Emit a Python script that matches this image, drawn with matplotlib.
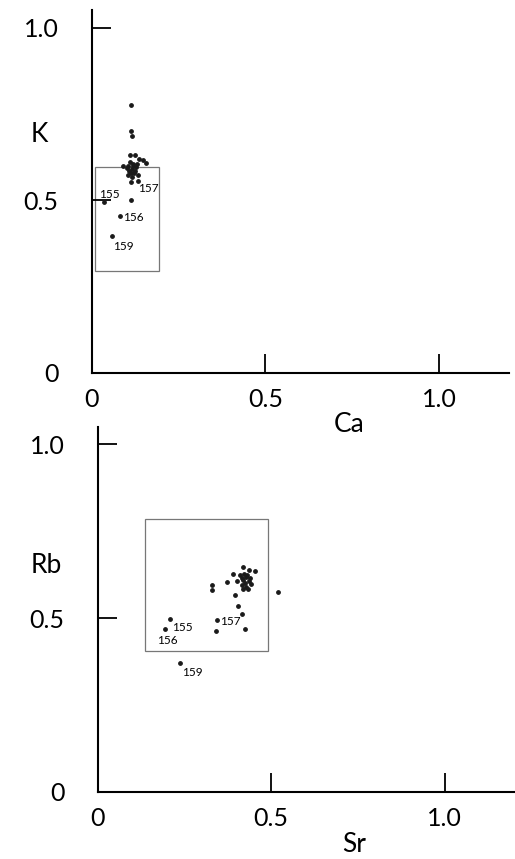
import matplotlib.pyplot as plt
import matplotlib.patches as patches

plt.rcParams['font.family'] = ['Lato', 'DejaVu Sans']

# top panel: K vs Ca
ca = [0.114, 0.114, 0.116, 0.110, 0.125, 0.137, 0.148, 0.157, 0.091, 0.105,
      0.116, 0.134, 0.134, 0.114, 0.105, 0.110, 0.115, 0.120, 0.125, 0.108,
      0.118, 0.128, 0.112, 0.122, 0.102, 0.130, 0.114, 0.036, 0.082, 0.059]
k = [0.777, 0.700, 0.685, 0.630, 0.630, 0.620, 0.615, 0.607, 0.600, 0.572,
     0.566, 0.572, 0.555, 0.552, 0.600, 0.610, 0.590, 0.600, 0.585, 0.585,
     0.605, 0.595, 0.578, 0.580, 0.592, 0.605, 0.500, 0.494, 0.454, 0.396]
top_ids = ['155', '156', '157', '159']
top_id_x = [0.022, 0.090, 0.134, 0.062]
top_id_y = [0.517, 0.451, 0.535, 0.367]
top_box = (0.01, 0.295, 0.185, 0.30)  # x, y, w, h

# bottom panel: Rb vs Sr
sr = [0.328, 0.328, 0.372, 0.389, 0.420, 0.435, 0.452, 0.400, 0.415, 0.426,
      0.441, 0.418, 0.432, 0.409, 0.395, 0.519, 0.403, 0.415, 0.343, 0.340,
      0.424, 0.420, 0.428, 0.435, 0.425, 0.430, 0.415, 0.440, 0.422,
      0.207, 0.193, 0.236]
rb = [0.595, 0.580, 0.603, 0.626, 0.647, 0.638, 0.635, 0.606, 0.595, 0.589,
      0.598, 0.583, 0.583, 0.624, 0.566, 0.575, 0.534, 0.511, 0.494, 0.463,
      0.468, 0.610, 0.618, 0.608, 0.600, 0.625, 0.615, 0.615, 0.628,
      0.497, 0.468, 0.371]
bot_ids = ['155', '156', '157', '159']
bot_id_x = [0.213, 0.170, 0.352, 0.242]
bot_id_y = [0.474, 0.437, 0.489, 0.345]
bot_box = (0.135, 0.405, 0.355, 0.38)

fig = plt.figure(figsize=(5.15, 8.59), dpi=100)
ax1 = fig.add_axes([0.178, 0.566, 0.81, 0.422])
ax2 = fig.add_axes([0.190, 0.078, 0.808, 0.425])


def style(ax, xlab, ylab, ylab_y):
    ax.patch.set_visible(False)
    ax.set_xlim(0, 1.2)
    ax.set_ylim(0, 1.05)
    for s in ['top', 'right']:
        ax.spines[s].set_visible(False)
    for s in ['left', 'bottom']:
        ax.spines[s].set_linewidth(1.5)
    ax.set_xticks([0, 0.5, 1.0])
    ax.set_xticklabels(['0', '0.5', '1.0'])
    ax.set_yticks([0, 0.5, 1.0])
    ax.set_yticklabels(['0', '0.5', '1.0'])
    ax.tick_params(axis='both', direction='in', length=14, width=1.3, labelsize=18)
    ax.tick_params(axis='y', pad=24)
    ax.tick_params(axis='x', pad=11)
    ax.text(0.74, -0.15, xlab, fontsize=19, ha='center', va='center')
    ax.text(-0.15, ylab_y, ylab, fontsize=19, ha='center', va='center')


style(ax1, 'Ca', 'K', 0.69)
style(ax2, 'Sr', 'Rb', 0.65)

ax1.scatter(ca, k, s=6, color='#1a1a1a', zorder=3)
ax2.scatter(sr, rb, s=6, color='#1a1a1a', zorder=3)

ax1.add_patch(patches.Rectangle(top_box[:2], top_box[2], top_box[3], fill=False,
                                edgecolor='#777777', lw=0.9))
ax2.add_patch(patches.Rectangle(bot_box[:2], bot_box[2], bot_box[3], fill=False,
                                edgecolor='#777777', lw=0.9))

for t, x, y in zip(top_ids, top_id_x, top_id_y):
    ax1.text(x, y, t, fontsize=8.5, va='center', ha='left')
for t, x, y in zip(bot_ids, bot_id_x, bot_id_y):
    ax2.text(x, y, t, fontsize=8.5, va='center', ha='left')

fig.savefig('out.png', dpi=100)
